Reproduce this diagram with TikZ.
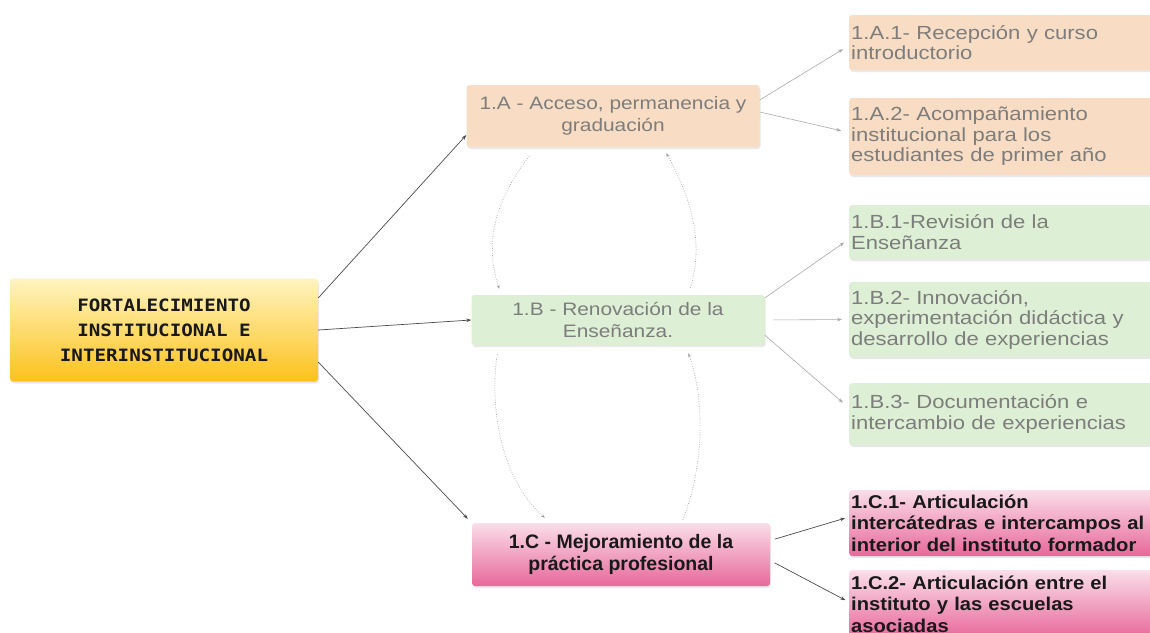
\documentclass[tikz,border=0pt]{standalone}
\usepackage{fontspec}
\setmainfont{Liberation Sans}
\newfontfamily\rootfont[FakeStretch=1.13]{DejaVu Sans Mono}
\newfontfamily\fadefont[FakeStretch=1.16]{Liberation Sans}
\newfontfamily\subboldfont[FakeStretch=1.09]{Liberation Sans}
\usetikzlibrary{arrows.meta,shadows,calc}

\definecolor{rootTop}{RGB}{255,244,192}
\definecolor{rootBot}{RGB}{252,194,28}
\definecolor{orfill}{RGB}{248,221,196}
\definecolor{grfill}{RGB}{221,239,212}
\definecolor{pkTop}{RGB}{250,222,233}
\definecolor{pkBot}{RGB}{232,104,154}
\definecolor{fadetext}{RGB}{125,125,125}
\definecolor{darkline}{RGB}{75,75,75}
\definecolor{lightline}{RGB}{170,170,170}
\definecolor{dotline}{RGB}{160,160,160}
\definecolor{inktext}{RGB}{25,25,25}

\tikzset{
  boxbase/.style={rounded corners=3pt, inner sep=2pt, draw=none,
    drop shadow={opacity=0.18, shadow xshift=1pt, shadow yshift=-2pt}},
  rootbox/.style={boxbase, top color=rootTop, bottom color=rootBot,
    align=center, text=inktext,
    font=\rootfont\bfseries\fontsize{17}{25}\selectfont},
  midfade/.style={boxbase, align=center, text=fadetext,
    font=\fadefont\fontsize{18}{22}\selectfont},
  orbox/.style={fill=orfill},
  grbox/.style={fill=grfill},
  pinkshade/.style={top color=pkTop, bottom color=pkBot},
  midpink/.style={boxbase, pinkshade, align=center, text=inktext,
    font=\bfseries\fontsize{19.5}{21.5}\selectfont},
  subfade/.style={boxbase, anchor=west, minimum width=305pt, text width=301pt,
    align=left, text=fadetext, font=\fadefont\fontsize{19}{20.5}\selectfont},
  subpink/.style={boxbase, pinkshade, minimum width=305pt, text width=301pt,
    align=left, text=inktext, font=\subboldfont\bfseries\fontsize{18.5}{21.5}\selectfont},
  darkconn/.style={draw=darkline, line width=0.7pt, -{Stealth[length=5pt,width=3.5pt]}},
  lightconn/.style={draw=lightline, line width=0.6pt, -{Stealth[length=5pt,width=3.5pt]}},
  dotconn/.style={draw=dotline, line width=0.6pt, dash pattern=on 0.8pt off 1.6pt,
    -{Stealth[length=4pt,width=3pt]}}
}

\begin{document}
\begin{tikzpicture}[x=1pt,y=-1pt]
\useasboundingbox (0,0) rectangle (1150,632);
\fill[white] (0,0) rectangle (1150,632);

% main nodes
\node[rootbox, minimum width=308pt, minimum height=103pt] (root) at (164,330)
  {FORTALECIMIENTO\\INSTITUCIONAL E\\INTERINSTITUCIONAL};
\node[midfade, orbox, minimum width=293pt, minimum height=62pt] (A) at (613,116)
  {1.A - Acceso, permanencia y\\graduación};
\node[midfade, grbox, minimum width=293pt, minimum height=50pt] (B) at (618,320)
  {1.B - Renovación de la\\Enseñanza.};
\node[midpink, minimum width=298pt, minimum height=63pt] (C) at (621,554.5)
  {1.C - Mejoramiento de la\\práctica profesional};

% sub nodes
\node[subfade, orbox, minimum height=55pt] (A1) at (849,42.5)
  {1.A.1- Recepción y curso\\introductorio};
\node[subfade, orbox, minimum height=77pt] (A2) at (849,136.5)
  {1.A.2- Acompañamiento\\institucional para los\\estudiantes de primer año};
\node[subfade, grbox, minimum height=54pt] (B1) at (849,232)
  {1.B.1-Revisión de la\\Enseñanza};
\node[subfade, grbox, minimum height=75pt] (B2) at (849,319.5)
  {1.B.2- Innovación,\\experimentación didáctica y\\desarrollo de experiencias};
\node[subfade, grbox, minimum height=62pt] (B3) at (849,414)
  {1.B.3- Documentación e\\intercambio de experiencias};
\node[subpink, anchor=west, minimum height=66pt] (C1) at (849,523)
  {1.C.1- Articulación\\intercátedras e intercampos al\\interior del instituto formador};
\node[subpink, anchor=north west, inner ysep=5.5pt] (C2) at (849,570)
  {1.C.2- Articulación entre el\\instituto y las escuelas\\asociadas};

% connectors from the root
\draw[darkconn] ([yshift=32pt]root.east) -- ([yshift=-19pt]A.west);
\draw[darkconn] (root.east) -- (B.west);
\draw[darkconn] ([yshift=-32pt]root.east) -- ([xshift=-4pt,yshift=4pt]C.north west);

% connectors to the sub nodes
\draw[lightconn, shorten >=7pt] ([yshift=16pt]A.east) -- ([yshift=-3pt]A1.west);
\draw[lightconn, shorten >=8pt] ([yshift=4pt]A.east) -- ([yshift=4pt]A2.west);
\draw[lightconn, shorten >=6pt] ([yshift=22pt]B.east) -- ([yshift=-7pt]B1.west);
\draw[lightconn, shorten <=9pt, shorten >=7pt] (B.east) -- (B2.west);
\draw[lightconn, shorten >=8pt] ([yshift=-15pt]B.east) -- ([yshift=6pt]B3.west);
\draw[darkconn, shorten <=5pt, shorten >=4pt] ([yshift=14pt]C.east) -- ([yshift=6pt]C1.west);
\draw[darkconn, shorten <=5pt, shorten >=4pt] ([yshift=-6pt]C.east) -- ([yshift=2pt]C2.west);

% dotted curved links between the main nodes
\draw[dotconn] ($(A.south west)+(63,9)$) .. controls +(-35,45) and +(-15,-45) .. ($(B.north west)+(28,-6)$);
\draw[dotconn] ($(B.south west)+(26,9)$) .. controls +(-8,50) and +(-45,-40) .. ($(C.north west)+(73,-5)$);
\draw[dotconn] ($(C.north west)+(211,-3)$) .. controls +(20,-50) and +(18,50) .. ($(B.south west)+(217,8)$);
\draw[dotconn] ($(B.north west)+(219,-7)$) .. controls +(14,-45) and +(25,45) .. ($(A.south west)+(200,6)$);
\end{tikzpicture}
\end{document}
